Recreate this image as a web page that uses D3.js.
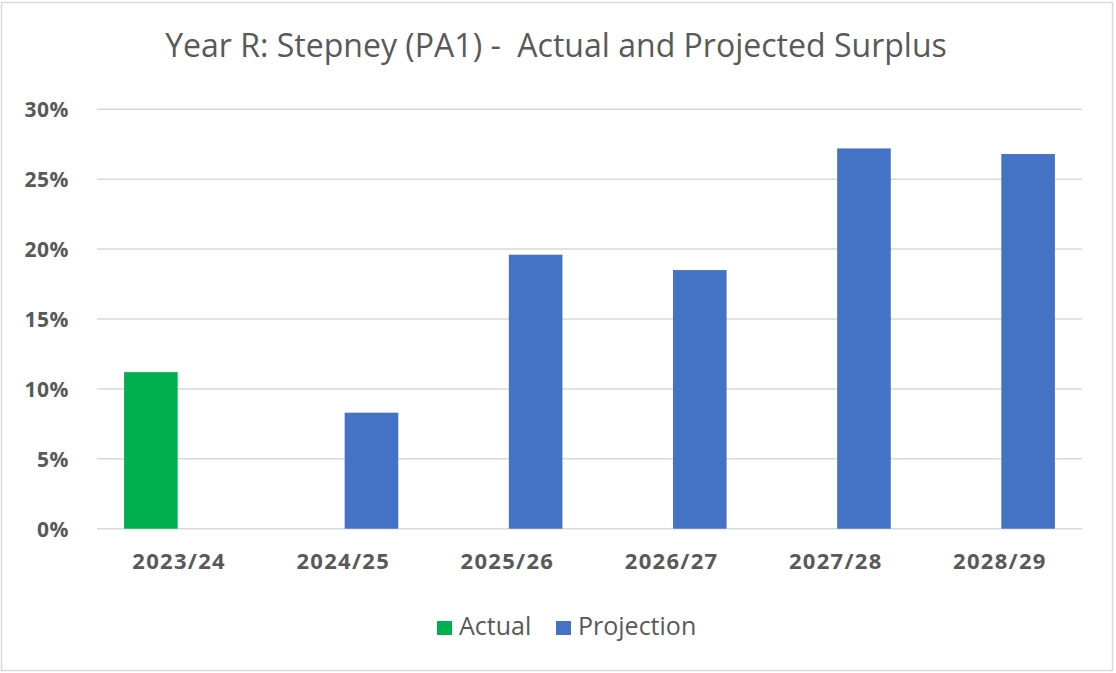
<!DOCTYPE html>
<html>
<head>
<meta charset="utf-8">
<script src="https://cdn.jsdelivr.net/npm/d3@7"></script>
<style>
  html, body { margin: 0; padding: 0; background: #fff; }
  svg { display: block; font-family: "Open Sans", "Noto Sans", sans-serif; }
</style>
</head>
<body>
<svg id="chart" width="1116" height="673"></svg>
<script>
const categories = ["2023/24", "2024/25", "2025/26", "2026/27", "2027/28", "2028/29"];
const seriesNames = ["Actual", "Projection"];
const actualValues = [0.112, null, null, null, null, null];
const projectionValues = [null, 0.083, 0.196, 0.185, 0.272, 0.268];
const yTicks = [0, 0.05, 0.10, 0.15, 0.20, 0.25, 0.30];
const colors = { "Actual": "#00B050", "Projection": "#4472C4" };
const titleText = "Year R: Stepney (PA1) -  Actual and Projected Surplus";

const svg = d3.select("#chart");
const plot = { left: 97, right: 1082, top: 109.3, bottom: 528.7 };

// frame
svg.append("rect").attr("x", 1.5).attr("y", 2.5).attr("width", 1111).attr("height", 668)
  .attr("fill", "#fff").attr("stroke", "#d9d9d9").attr("stroke-width", 1.5);

// title
const title = svg.append("text").attr("x", 556).attr("y", 57)
  .attr("text-anchor", "middle").attr("fill", "#595959")
  .attr("font-size", 26).style("white-space", "pre").text(titleText);
const tw = title.node().getComputedTextLength();
title.attr("font-size", 26 * 782 / tw);

const x0 = d3.scaleBand().domain(categories).range([plot.left, plot.right]).paddingInner(0).paddingOuter(0);
const bw = x0.bandwidth();
const x1 = d3.scaleBand().domain(seriesNames).range([bw / 2 - 55, bw / 2 + 55]).paddingInner(0.05);
const y = d3.scaleLinear().domain([0, 0.30]).range([plot.bottom, plot.top]);

// gridlines
svg.append("g").selectAll("line").data(yTicks).join("line")
  .attr("x1", plot.left).attr("x2", plot.right)
  .attr("y1", d => y(d)).attr("y2", d => y(d))
  .attr("stroke", "#d9d9d9").attr("stroke-width", 1.5);

// y axis labels
const yAxis = d3.axisLeft(y).tickValues(yTicks).tickFormat(d3.format(".0%")).tickSize(0).tickPadding(0);
const gy = svg.append("g").attr("transform", "translate(69,0)").call(yAxis);
gy.select(".domain").remove();
gy.selectAll("text").attr("font-family", "'Open Sans', sans-serif").attr("font-size", 21)
  .attr("font-weight", "bold").attr("fill", "#595959").attr("dy", "0.36em")
  .attr("letter-spacing", 0.5);

// x axis labels
const xAxis = d3.axisBottom(x0).tickSize(0).tickPadding(0);
const gx = svg.append("g").attr("transform", "translate(0,569)").call(xAxis);
gx.select(".domain").remove();
gx.selectAll("text").attr("font-family", "'Open Sans', sans-serif").attr("font-size", 22)
  .attr("font-weight", "bold").attr("fill", "#595959").attr("dy", "0")
  .attr("letter-spacing", 1.3);

// bars
const rows = categories.map((c, i) => ({ cat: c, values: [
  { key: "Actual", value: actualValues[i] },
  { key: "Projection", value: projectionValues[i] }
].filter(d => d.value !== null) }));

svg.append("g").selectAll("g").data(rows).join("g")
  .attr("transform", d => `translate(${x0(d.cat)},0)`)
  .selectAll("rect").data(d => d.values).join("rect")
  .attr("x", d => x1(d.key)).attr("width", x1.bandwidth())
  .attr("y", d => y(d.value)).attr("height", d => y(0) - y(d.value))
  .attr("fill", d => colors[d.key]);

// legend
const legendItems = [
  { key: "Actual", sx: 437, tx: 459 },
  { key: "Projection", sx: 556, tx: 578 }
];
const lg = svg.append("g");
legendItems.forEach(it => {
  lg.append("rect").attr("x", it.sx).attr("y", 621).attr("width", 15).attr("height", 14)
    .attr("fill", colors[it.key]);
  lg.append("text").attr("x", it.tx).attr("y", 635).attr("font-size", 25)
    .attr("fill", "#595959").text(it.key);
});
</script>
</body>
</html>
